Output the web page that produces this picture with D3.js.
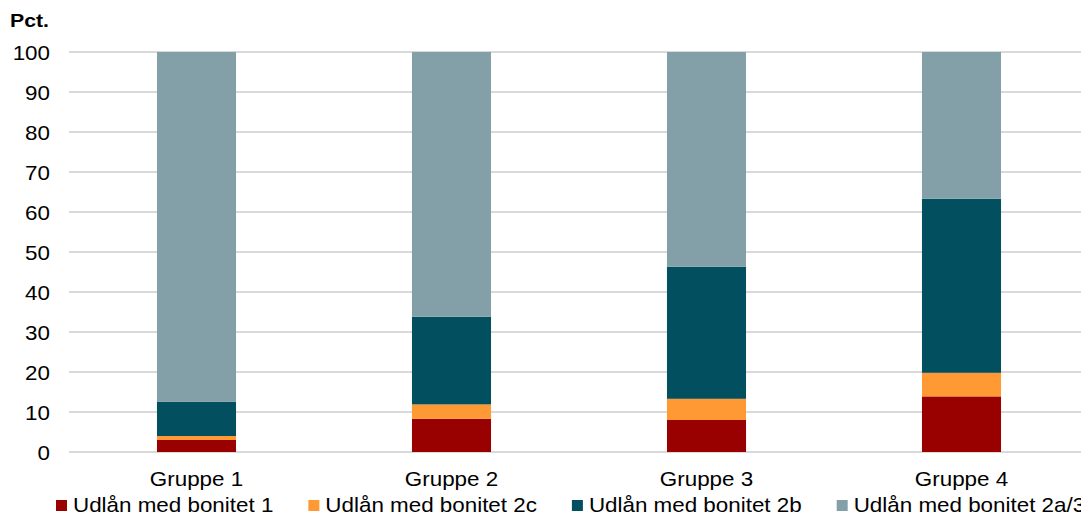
<!DOCTYPE html>
<html>
<head>
<meta charset="utf-8">
<script src="https://cdn.jsdelivr.net/npm/d3@7"></script>
<style>
  html, body { margin: 0; padding: 0; background: #fff; overflow: hidden; }
  svg text { font-family: "Liberation Sans", Arial, sans-serif; fill: #000; }
</style>
</head>
<body>
<svg id="chart" width="1081" height="515"></svg>
<script>
// Categories and stacked shares (percent of lending)
const groups = ["Gruppe 1", "Gruppe 2", "Gruppe 3", "Gruppe 4"];
const seriesNames = ["Udlån med bonitet 1", "Udlån med bonitet 2c", "Udlån med bonitet 2b", "Udlån med bonitet 2a/3"];
const bonitet1  = [3.0, 8.3, 8.0, 13.9];
const bonitet2c = [1.0, 3.6, 5.3, 5.9];
const bonitet2b = [8.6, 21.9, 33.0, 43.5];
const bonitet2a3 = [87.4, 66.2, 53.7, 36.7];
const yTicks = [0, 10, 20, 30, 40, 50, 60, 70, 80, 90, 100];
const colors = ["#990000", "#FF9933", "#02505F", "#83A0A9"];

const seriesValues = [bonitet1, bonitet2c, bonitet2b, bonitet2a3];
const rows = groups.map((g, i) => {
  const r = { group: g };
  seriesNames.forEach((s, k) => { r[s] = seriesValues[k][i]; });
  return r;
});

const svg = d3.select("#chart");
const margin = { left: 69, top: 52, bottom: 63 };
const plotW = 1020;
const plotH = 515 - margin.top - margin.bottom;
const textStretch = 1.12; // wide text rendering

const x = d3.scaleBand().domain(groups).range([margin.left, margin.left + plotW]).paddingInner(0.69).paddingOuter(0.345);
const y = d3.scaleLinear().domain([0, 100]).range([margin.top + plotH, margin.top]);

// Gridlines
svg.append("g")
  .selectAll("line")
  .data(yTicks)
  .join("line")
  .attr("x1", margin.left).attr("x2", 1081)
  .attr("y1", d => y(d)).attr("y2", d => y(d))
  .attr("stroke", "#d9d9d9").attr("stroke-width", 2);

// Y axis labels
const yAxis = d3.axisLeft(y).tickValues(yTicks).tickSize(0).tickPadding(0);
const yg = svg.append("g").attr("transform", `translate(50,1)`).call(yAxis);
yg.select(".domain").remove();
yg.selectAll("text")
  .attr("font-size", 20).attr("font-family", "Liberation Sans, Arial, sans-serif").attr("fill", "#000")
  .attr("transform", `scale(${textStretch},1)`);

// Unit label
svg.append("text").attr("x", 10).attr("y", 27).attr("font-size", 19).attr("font-weight", "bold")
  .attr("transform", `translate(10,0) scale(${textStretch},1) translate(-10,0)`)
  .text("Pct.");

// Stacked bars
const stack = d3.stack().keys(seriesNames);
const layers = stack(rows);
svg.append("g")
  .selectAll("g")
  .data(layers)
  .join("g")
  .attr("fill", (d, i) => colors[i])
  .selectAll("rect")
  .data(d => d)
  .join("rect")
  .attr("x", d => x(d.data.group))
  .attr("width", x.bandwidth())
  .attr("y", d => y(d[1]))
  .attr("height", d => y(d[0]) - y(d[1]));

// X axis labels
const xAxis = d3.axisBottom(x).tickSize(0).tickPadding(0);
const xg = svg.append("g").attr("transform", `translate(0,${margin.top + plotH + 20})`).call(xAxis);
xg.select(".domain").remove();
xg.selectAll("text")
  .attr("font-size", 20).attr("font-family", "Liberation Sans, Arial, sans-serif").attr("fill", "#000")
  .attr("transform", `scale(${textStretch},1)`);

// Legend
const legend = svg.append("g").attr("transform", "translate(56,506)");
let lx = 0;
seriesNames.forEach((name, i) => {
  const item = legend.append("g").attr("transform", `translate(${lx},0)`);
  item.append("rect").attr("x", 0).attr("y", -6).attr("width", 11).attr("height", 11).attr("fill", colors[i]);
  const t = item.append("text").attr("x", 0).attr("y", 6).attr("font-size", 20)
    .attr("transform", `translate(17,0) scale(${textStretch},1)`)
    .text(name);
  lx += 17 + t.node().getComputedTextLength() * textStretch + 35;
});
</script>
</body>
</html>
